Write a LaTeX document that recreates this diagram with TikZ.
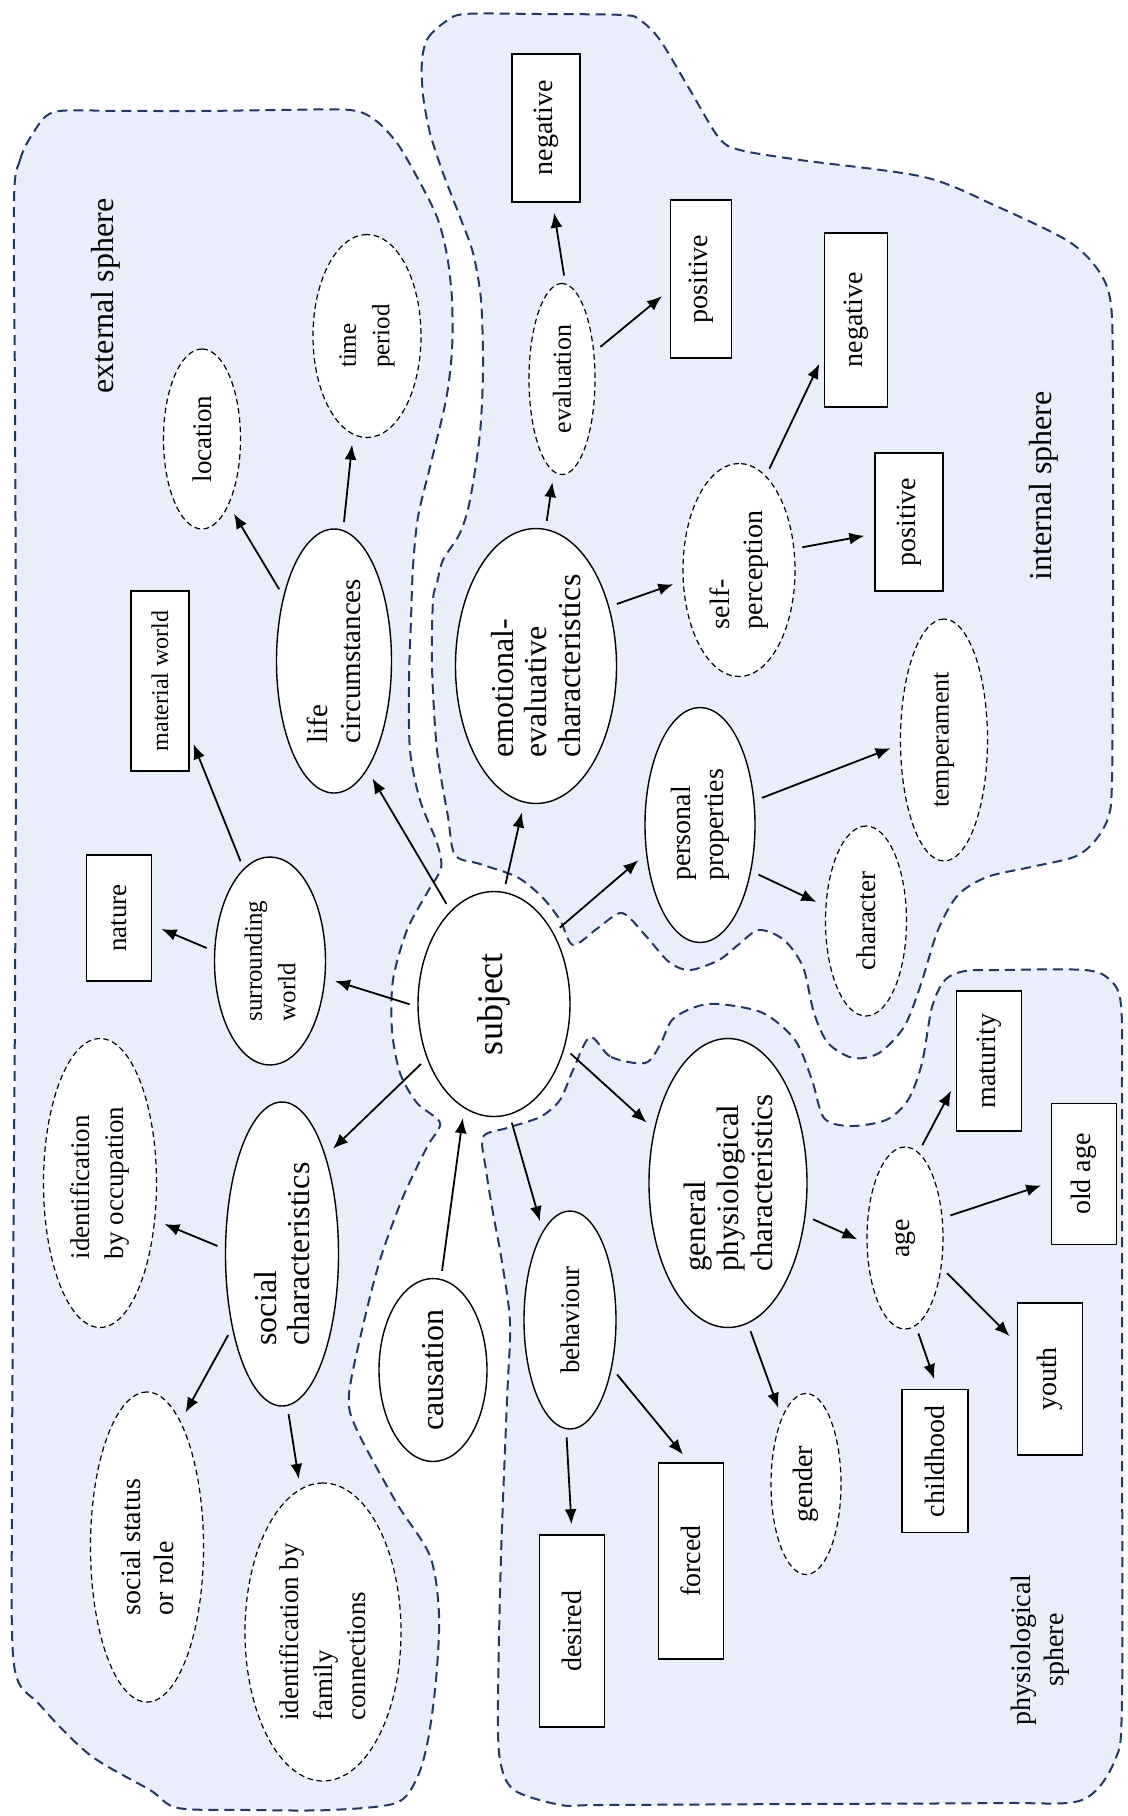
\documentclass[tikz,border=0pt]{standalone}
\usepackage{fontspec}
\setmainfont{Liberation Serif}
\usetikzlibrary{shapes.geometric,arrows.meta}
\definecolor{spherefill}{RGB}{233,238,250}
\definecolor{spherecol}{RGB}{35,55,95}
\tikzset{
  base/.style={rotate=90, fill=white, inner sep=0pt, align=left, font=\fontsize{14}{16.5}\selectfont},
  fz/.style={font=\fontsize{#1}{16.8}\selectfont},
  sol/.style={base, ellipse, draw, line width=0.7pt},
  dsh/.style={base, ellipse, draw, line width=0.6pt, dash pattern=on 2.8pt off 1.8pt},
  box/.style={base, rectangle, draw, line width=0.8pt},
  lbl/.style={rotate=90, inner sep=0pt, align=center, font=\fontsize{16}{16.5}\selectfont},
  arr/.style={-{Latex[length=7.5pt,width=6pt]}, line width=0.9pt, shorten <=4pt, shorten >=5pt},
  sphere/.style={fill=spherefill, draw=spherecol, line width=1pt, dash pattern=on 5pt off 3pt},
}
\begin{document}
\begin{tikzpicture}[x=0.5pt,y=-0.5pt]
\fill[white] (0,0) rectangle (1128,1816);
\useasboundingbox (0,0) rectangle (1128,1816);
% external sphere
\draw[sphere] plot[smooth cycle, tension=0.5] coordinates {
 (14,200) (20,160) (32,135) (54,112) (120,111) (200,111) (280,110) (350,110)
 (375,120) (397,143) (417,177) (437,217) (447,255) (452,300) (452,350) (446,400)
 (430,467) (418,517) (413,567) (411,620) (409,680) (410,750) (420,800) (437,843)
 (441,868) (427,893) (407,930) (393,980) (392,1030) (400,1073) (417,1103) (440,1123)
 (427,1147) (403,1197) (380,1260) (362,1330) (349,1395) (356,1428) (396,1502)
 (430,1556) (439,1614) (436,1680) (428,1740) (417,1778) (396,1803) (330,1810)
 (250,1810) (178,1808) (150,1790) (90,1755) (40,1705) (14,1665) (12,1500)
 (13,1300) (15,1000) (16,700) (15,400)};
% internal sphere
\draw[sphere] plot[smooth cycle, tension=0.5] coordinates {
 (422,60) (428,38) (445,22) (465,14) (540,14) (623,15) (640,20) (660,40) (690,90)
 (719,138) (740,150) (800,160) (924,177) (996,206) (1068,241) (1098,270) (1111,305)
 (1113,400) (1113,600) (1112,780) (1108,818) (1094,842) (1074,857) (1031,867)
 (987,877) (958,895) (938,930) (920,987) (904,1027) (879,1053) (853,1058) (828,1043)
 (814,1013) (803,967) (784,940) (759,930) (738,945) (719,960) (690,970) (669,962)
 (645,935) (622,913) (598,928) (573,945) (560,920) (542,897) (517,877) (480,864)
 (455,855) (448,817) (437,750) (432,667) (433,600) (437,583) (443,560) (460,533)
 (470,500) (480,433) (483,367) (481,300) (473,253) (460,217) (443,173) (430,133)
 (423,95)};
% physiological sphere
\draw[sphere] plot[smooth cycle, tension=0.5] coordinates {
 (590,1037) (611,1057) (645,1063) (660,1045) (672,1020) (695,1007) (719,1004)
 (763,1013) (795,1040) (812,1080) (824,1118) (850,1126) (886,1120) (908,1100)
 (922,1063) (932,1007) (945,980) (965,971) (1000,970) (1085,970) (1110,980)
 (1121,1005) (1122,1100) (1122,1400) (1122,1700) (1115,1760) (1082,1800)
 (1000,1803) (800,1804) (600,1805) (561,1805) (514,1790) (500,1760) (498,1700)
 (501,1556) (507,1400) (510,1323) (502,1262) (493,1213) (486,1170) (483,1137)
 (507,1128) (540,1117) (560,1100) (573,1070)};
% sphere labels
\node[lbl] (extl) at (106,296) {external sphere};
\node[lbl] (intl) at (1044,486) {internal sphere};
\node[lbl, font=\fontsize{14}{16.5}\selectfont] (phyl) at (1040,1650) {physiological\\sphere};
% nodes
\node[sol, fz=18, minimum width=112.5pt, minimum height=76pt] (subj) at (494,1004) {subject};
\node[sol, fz=12.5, minimum width=104pt, minimum height=55.5pt] (surr) at (270,961) {surrounding\\world};
\node[box, fz=13.5, minimum width=63pt, minimum height=32.5pt] (nature) at (119,918) {nature};
\node[box, fz=12, minimum width=90pt, minimum height=29pt] (material) at (160,681) {material world};
\node[sol, fz=14.5, minimum width=132pt, minimum height=57.5pt] (life) at (334,661) {life\\circumstances};
\node[dsh, fz=13.5, minimum width=90pt, minimum height=38.5pt] (loc) at (202,439) {location};
\node[dsh, fz=12.5, minimum width=101.5pt, minimum height=54pt] (time) at (367,336) {time\\period};
\node[sol, fz=16, minimum width=137.5pt, minimum height=80.5pt] (emo) at (536,666) {emotional-\\evaluative\\characteristics};
\node[dsh, fz=13, minimum width=95.5pt, minimum height=33pt] (eval) at (562,379) {evaluation};
\node[box, minimum width=74pt, minimum height=34pt] (neg1) at (546,128) {negative};
\node[box, minimum width=79pt, minimum height=30.5pt] (pos1) at (701,279) {positive};
\node[dsh, minimum width=106.5pt, minimum height=56pt] (self) at (739,570) {self-\\perception};
\node[box, minimum width=87pt, minimum height=31.5pt] (neg2) at (856,320) {negative};
\node[box, minimum width=69pt, minimum height=34pt] (pos2) at (909,522) {positive};
\node[sol, minimum width=117.5pt, minimum height=55pt] (pers) at (700,825) {personal\\properties};
\node[dsh, fz=13, minimum width=121pt, minimum height=43.5pt] (temp) at (944,740) {temperament};
\node[dsh, fz=13.5, minimum width=95pt, minimum height=40.5pt] (char) at (866,921) {character};
\node[sol, fz=15.5, minimum width=144.5pt, minimum height=79pt] (gen) at (728,1183) {general\\physiological\\characteristics};
\node[dsh, minimum width=91pt, minimum height=38pt] (age) at (905,1238) {age};
\node[box, minimum width=70pt, minimum height=32.5pt] (mat) at (989,1061) {maturity};
\node[box, minimum width=70.5pt, minimum height=32.5pt] (old) at (1084,1174) {old age};
\node[box, minimum width=76pt, minimum height=32.5pt] (youth) at (1050,1379) {youth};
\node[box, minimum width=71.5pt, minimum height=33pt] (child) at (935,1461) {childhood};
\node[dsh, minimum width=90.5pt, minimum height=35pt] (gender) at (806,1484) {gender};
\node[sol, fz=13.5, minimum width=109pt, minimum height=46pt] (beh) at (570,1320) {behaviour};
\node[box, minimum width=98pt, minimum height=32.5pt] (forced) at (691,1561) {forced};
\node[box, minimum width=96pt, minimum height=32.5pt] (desired) at (572,1631) {desired};
\node[sol, fz=16, minimum width=152pt, minimum height=56.5pt] (soc) at (282,1254) {social\\characteristics};
\node[dsh, fz=13.5, minimum width=144.5pt, minimum height=56.5pt] (occ) at (100,1183) {identification\\by occupation};
\node[dsh, minimum width=155pt, minimum height=56.5pt] (status) at (147,1547) {social status\\or role};
\node[dsh, fz=13.5, minimum width=149pt, minimum height=78pt] (family) at (323,1632) {identification by\\family\\connections};
\node[sol, fz=16, minimum width=91.5pt, minimum height=54pt] (caus) at (433,1370) {causation};
% connectors
\draw[arr] (subj.92) -- (surr.-107);
\draw[arr] (subj.25) -- (life.-163);
\draw[arr] (subj.-5) -- (emo.175);
\draw[arr] (subj.-40) -- (pers.118);
\draw[arr] (subj.-122) -- (gen.54);
\draw[arr] (subj.-172) -- (beh.17);
\draw[arr] (subj.129) -- (soc.-24);
\draw[arr] (caus.-5) -- (subj.164);
\draw[arr] (surr.80) -- (nature.-102);
\draw[arr] (surr.16) -- (material.-151);
\draw[arr] (life.38) -- (loc.-158);
\draw[arr] (life.-4) -- (time.172);
\draw[arr] (emo.-4) -- (eval.175);
\draw[arr] (eval.-2) -- (neg1.-175);
\draw[arr] (eval.-50) -- (pos1.109);
\draw[arr] (emo.-51) -- (self.101);
\draw[arr] (self.-16) -- (neg2.137);
\draw[arr] (self.-69) -- (pos2.109);
\draw[arr] (pers.-66) -- (temp.96);
\draw[arr] (pers.-132) -- (char.70);
\draw[arr] (gen.-113) -- (age.98);
\draw[arr] (gen.-172) -- (gender.20);
\draw[arr] (age.-9) -- (mat.122);
\draw[arr] (age.-62) -- (old.104);
\draw[arr] (age.-129) -- (youth.43);
\draw[arr] (age.-173) -- (child.-2);
\draw[arr] (beh.-139) -- (forced.1);
\draw[arr] (beh.178) -- (desired.0);
\draw[arr] (soc.85) -- (occ.-124);
\draw[arr] (soc.146) -- (status.-15);
\draw[arr] (soc.-178) -- (family.9);
\end{tikzpicture}
\end{document}
